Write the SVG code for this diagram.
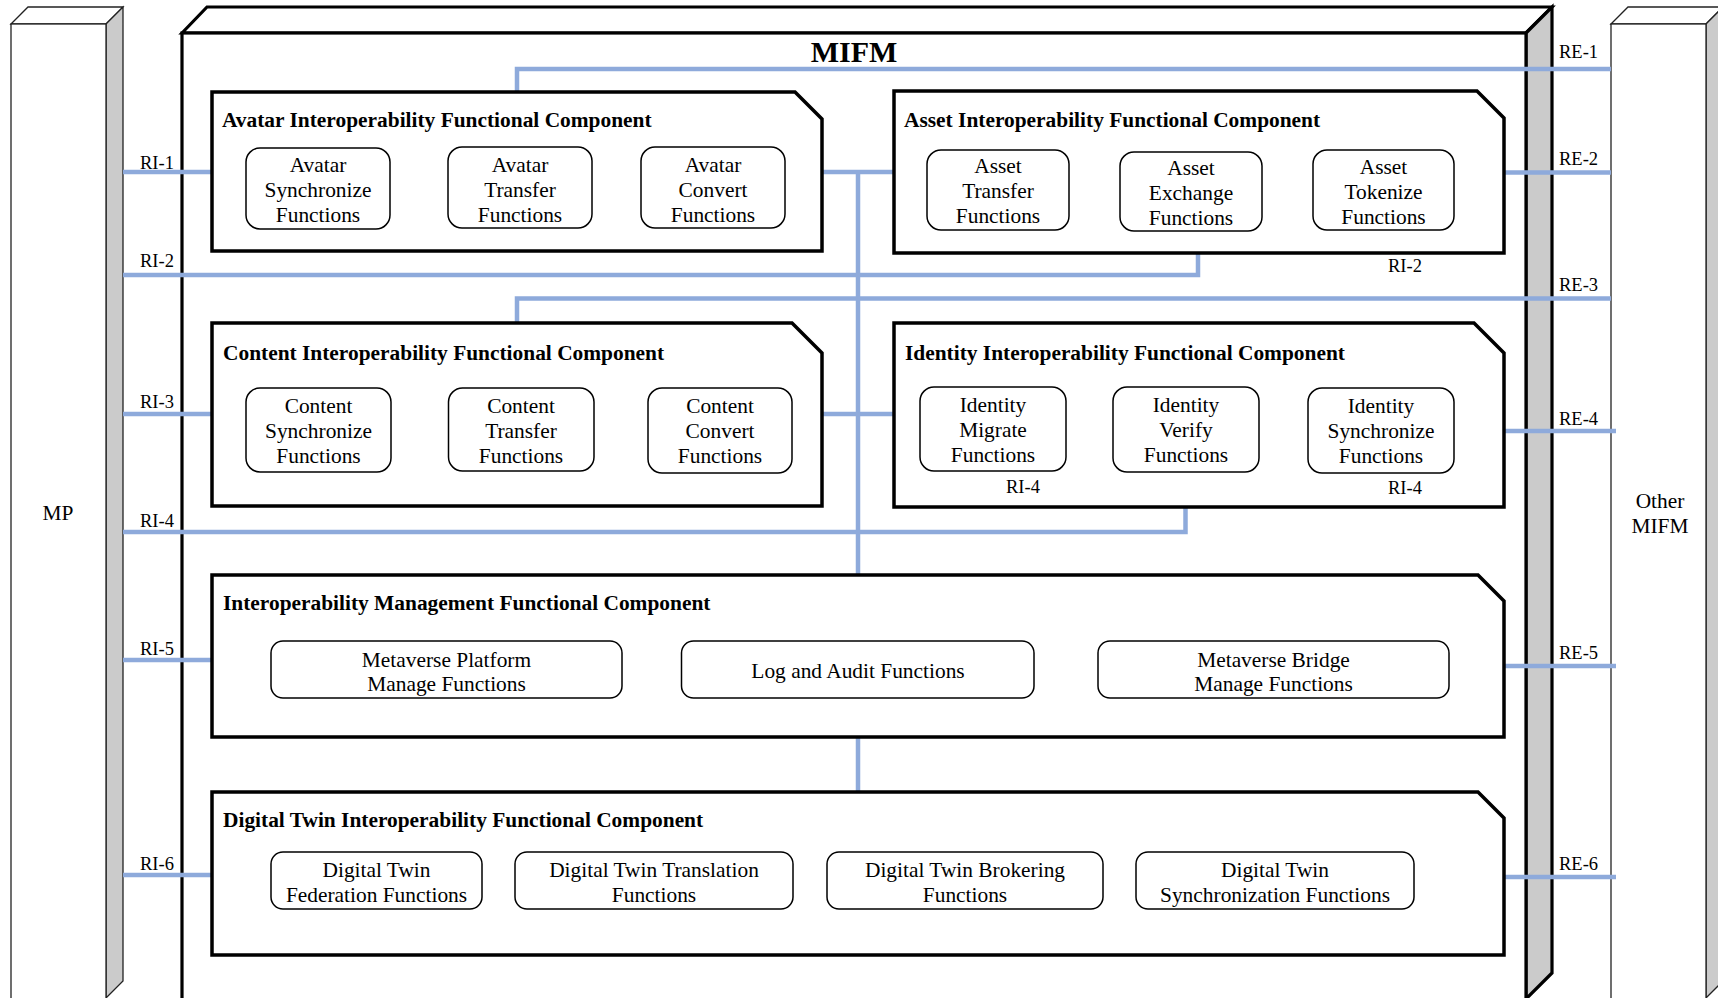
<svg xmlns="http://www.w3.org/2000/svg" width="1718" height="998" viewBox="0 0 1718 998">
<defs>
<style>
.pf{fill:#fff;stroke:#222;stroke-width:1.3}
.ps{fill:#cbcbcb;stroke:#222;stroke-width:1.3}
.mf{fill:#fff;stroke:#000;stroke-width:3.2}
.ms{fill:#cbcbcb;stroke:#000;stroke-width:3.2;stroke-linejoin:miter}
.comp{fill:#fff;stroke:#000;stroke-width:3.5}
.fn{fill:#fff;stroke:#000;stroke-width:1.5}
.conn{stroke:#8EAADB;stroke-width:4.5;fill:none;stroke-linecap:butt}
text{font-family:"Liberation Serif","Times New Roman",serif;fill:#000}
.t{font-size:21.4px;text-anchor:middle}
.title{font-size:21.4px;font-weight:bold}
.big{font-size:30px;font-weight:bold;text-anchor:middle}
.lbl{font-size:18.5px}
.lc{font-size:18.5px;text-anchor:middle}
</style>
</defs>
<rect width="1718" height="998" fill="#fff"/>

<g id="mp">
<polygon class="pf" points="11,24 28,7 123,7 106,24"/>
<polygon class="ps" points="106,24 123,7 123,981 106,998"/>
<rect class="pf" x="11" y="24" width="95" height="980"/>
<text class="t" x="58" y="520">MP</text>
</g>

<g id="other-mifm">
<polygon class="pf" points="1611,24 1628,7 1723,7 1706,24"/>
<polygon class="ps" points="1706,24 1723,7 1723,981 1706,998"/>
<rect class="pf" x="1611" y="24" width="95" height="980"/>
<text class="t" x="1660" y="508">Other</text>
<text class="t" x="1660" y="533">MIFM</text>
</g>

<g id="mifm">
<polygon class="mf" points="182,33 207,7 1552,7 1526,33"/>
<polygon class="ms" points="1526,33 1552,7 1552,973 1526,999"/>
<rect class="mf" x="182" y="33" width="1344" height="967"/>
<text class="big" x="854" y="62">MIFM</text>
</g>

<g id="connectors">
<path class="conn" d="M517,92 V69 H1611"/>
<path class="conn" d="M123,172 H212"/>
<path class="conn" d="M822,172 H894"/>
<path class="conn" d="M858,170 V575"/>
<path class="conn" d="M1504,172.5 H1611"/>
<path class="conn" d="M123,275 H1198 V253"/>
<path class="conn" d="M517,323 V298.5 H1611"/>
<path class="conn" d="M123,414 H212"/>
<path class="conn" d="M822,414 H894"/>
<path class="conn" d="M1504,431 H1616"/>
<path class="conn" d="M123,532 H1185.5 V472"/>
<path class="conn" d="M123,660 H212"/>
<path class="conn" d="M1504,666 H1616"/>
<path class="conn" d="M858,737 V792"/>
<path class="conn" d="M123,875 H212"/>
<path class="conn" d="M1504,877 H1616"/>
</g>

<g id="labels">
<text class="lbl" x="140" y="169">RI-1</text>
<text class="lbl" x="140" y="267">RI-2</text>
<text class="lbl" x="140" y="408">RI-3</text>
<text class="lbl" x="140" y="527">RI-4</text>
<text class="lbl" x="140" y="655">RI-5</text>
<text class="lbl" x="140" y="870">RI-6</text>
<text class="lbl" x="1559" y="58">RE-1</text>
<text class="lbl" x="1559" y="165">RE-2</text>
<text class="lbl" x="1559" y="291">RE-3</text>
<text class="lbl" x="1559" y="425">RE-4</text>
<text class="lbl" x="1559" y="659">RE-5</text>
<text class="lbl" x="1559" y="870">RE-6</text>
</g>

<g id="avatar">
<path class="comp" d="M212,92 H795 L822,119 V251 H212 Z"/>
<text class="title" x="222" y="127">Avatar Interoperability Functional Component</text>
<rect class="fn" x="246" y="148" width="144" height="81" rx="14"/>
<text class="t" x="318" y="172">Avatar</text><text class="t" x="318" y="197">Synchronize</text><text class="t" x="318" y="222">Functions</text>
<rect class="fn" x="448" y="147" width="144" height="81" rx="14"/>
<text class="t" x="520" y="172">Avatar</text><text class="t" x="520" y="197">Transfer</text><text class="t" x="520" y="222">Functions</text>
<rect class="fn" x="641" y="147" width="144" height="81" rx="14"/>
<text class="t" x="713" y="172">Avatar</text><text class="t" x="713" y="197">Convert</text><text class="t" x="713" y="222">Functions</text>
</g>

<g id="asset">
<path class="comp" d="M894,91 H1477 L1504,118 V253 H894 Z"/>
<text class="title" x="904" y="127">Asset Interoperability Functional Component</text>
<rect class="fn" x="927" y="150" width="142" height="80" rx="14"/>
<text class="t" x="998" y="173">Asset</text><text class="t" x="998" y="198">Transfer</text><text class="t" x="998" y="223">Functions</text>
<rect class="fn" x="1120" y="152" width="142" height="79" rx="14"/>
<text class="t" x="1191" y="175">Asset</text><text class="t" x="1191" y="200">Exchange</text><text class="t" x="1191" y="225">Functions</text>
<rect class="fn" x="1313" y="150" width="141" height="80" rx="14"/>
<text class="t" x="1383.5" y="174">Asset</text><text class="t" x="1383.5" y="199">Tokenize</text><text class="t" x="1383.5" y="224">Functions</text>
<text class="lc" x="1405" y="272">RI-2</text>
</g>

<g id="content">
<path class="comp" d="M212,323 H792 L822,353 V506 H212 Z"/>
<text class="title" x="223" y="360">Content Interoperability Functional Component</text>
<rect class="fn" x="246" y="388" width="145" height="84" rx="14"/>
<text class="t" x="318.5" y="413">Content</text><text class="t" x="318.5" y="438">Synchronize</text><text class="t" x="318.5" y="463">Functions</text>
<rect class="fn" x="448.5" y="388" width="145.5" height="83" rx="14"/>
<text class="t" x="521" y="413">Content</text><text class="t" x="521" y="438">Transfer</text><text class="t" x="521" y="463">Functions</text>
<rect class="fn" x="648" y="388" width="144" height="85" rx="14"/>
<text class="t" x="720" y="413">Content</text><text class="t" x="720" y="438">Convert</text><text class="t" x="720" y="463">Functions</text>
</g>

<g id="identity">
<path class="comp" d="M894,323 H1474 L1504,353 V507 H894 Z"/>
<text class="title" x="905" y="360">Identity Interoperability Functional Component</text>
<rect class="fn" x="920" y="387" width="146" height="84" rx="14"/>
<text class="t" x="993" y="412">Identity</text><text class="t" x="993" y="437">Migrate</text><text class="t" x="993" y="462">Functions</text>
<rect class="fn" x="1113" y="387" width="146" height="85" rx="14"/>
<text class="t" x="1186" y="412">Identity</text><text class="t" x="1186" y="437">Verify</text><text class="t" x="1186" y="462">Functions</text>
<rect class="fn" x="1308" y="388" width="146" height="85" rx="14"/>
<text class="t" x="1381" y="413">Identity</text><text class="t" x="1381" y="438">Synchronize</text><text class="t" x="1381" y="463">Functions</text>
<text class="lc" x="1023" y="493">RI-4</text>
<text class="lc" x="1405" y="494">RI-4</text>
</g>

<g id="management">
<path class="comp" d="M212,575 H1478 L1504,601 V737 H212 Z"/>
<text class="title" x="223" y="610">Interoperability Management Functional Component</text>
<rect class="fn" x="271" y="641" width="351" height="57" rx="12"/>
<text class="t" x="446.5" y="667">Metaverse Platform</text><text class="t" x="446.5" y="691">Manage Functions</text>
<rect class="fn" x="681.5" y="641" width="352.5" height="57" rx="12"/>
<text class="t" x="858" y="678">Log and Audit Functions</text>
<rect class="fn" x="1098" y="641" width="351" height="57" rx="12"/>
<text class="t" x="1273.5" y="667">Metaverse Bridge</text><text class="t" x="1273.5" y="691">Manage Functions</text>
</g>

<g id="digital-twin">
<path class="comp" d="M212,792 H1478 L1504,818 V955 H212 Z"/>
<text class="title" x="223" y="827">Digital Twin Interoperability Functional Component</text>
<rect class="fn" x="271" y="852" width="211" height="57" rx="12"/>
<text class="t" x="376.5" y="877">Digital Twin</text><text class="t" x="376.5" y="902">Federation Functions</text>
<rect class="fn" x="515" y="852" width="278" height="57" rx="12"/>
<text class="t" x="654" y="877">Digital Twin Translation</text><text class="t" x="654" y="902">Functions</text>
<rect class="fn" x="827" y="852" width="276" height="57" rx="12"/>
<text class="t" x="965" y="877">Digital Twin Brokering</text><text class="t" x="965" y="902">Functions</text>
<rect class="fn" x="1136" y="852" width="278" height="57" rx="12"/>
<text class="t" x="1275" y="877">Digital Twin</text><text class="t" x="1275" y="902">Synchronization Functions</text>
</g>
</svg>
